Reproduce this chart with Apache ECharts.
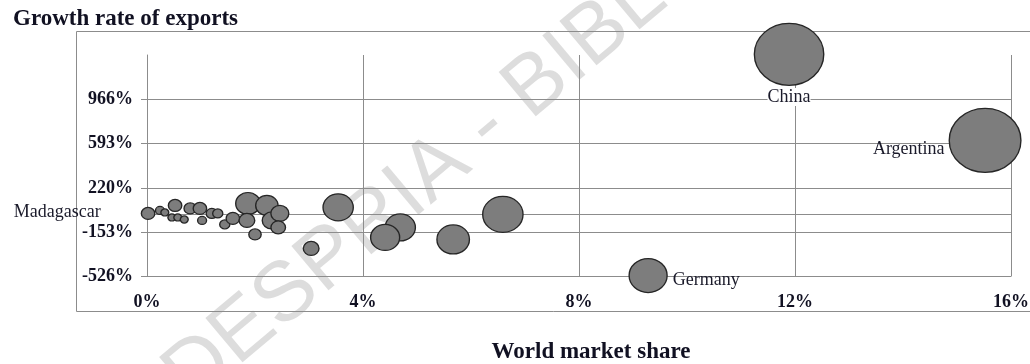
<!DOCTYPE html>
<html>
<head>
<meta charset="utf-8">
<script src="https://cdn.jsdelivr.net/npm/echarts@6/dist/echarts.min.js"></script>
<style>
  html, body { margin: 0; padding: 0; background: #ffffff; }
  #chart { width: 1030px; height: 364px; }
</style>
</head>
<body>
<div id="chart"></div>
<script>
// World market share (%) of each exporter
const shareX = [0.02, 0.24, 0.33, 0.52, 0.46, 0.57, 0.69, 0.80, 0.98, 1.02,
                1.20, 1.31, 1.44, 1.59, 1.87, 1.85, 2.22, 2.31, 2.46, 2.43,
                2.00, 3.04, 3.54, 4.69, 4.41, 5.67, 6.59, 9.28, 11.89, 15.52];
// Growth rate of exports (%)
const growthY = [5, 30, 13, 72, -29, -29, -46, 47, 47, -54,
                 5, 5, -88, -37, 89, -54, 72, -54, 5, -113,
                 -172, -290, 56, -113, -197, -214, -3, -518, 1345, 620];
// Relative export volume (bubble size)
const bubbleSize = [9, 4, 3.1, 9, 3.1, 3.1, 3.1, 7.6, 9, 4,
                    6.3, 5.1, 5.1, 9, 30, 12.3, 25, 18, 16, 10.6,
                    7.6, 12.3, 45.6, 45.6, 42, 52.6, 81, 72, 240, 256];
// Country names shown next to their bubbles ('' = unlabelled)
const names = ['Madagascar', '', '', '', '', '', '', '', '', '',
               '', '', '', '', '', '', '', '', '', '',
               '', '', '', '', '', '', '', 'Germany', 'China', 'Argentina'];
// Axis ticks
const yTicks = [-526, -153, 220, 593, 966];
const xTicks = [0, 4, 8, 12, 16];

const serif = '"Liberation Serif", "Times New Roman", serif';
const gridGray = '#8c8c8c';

const labelPlacement = {
  'Madagascar': { position: 'left', distance: 40, offset: [0, -1] },
  'China': { position: 'bottom', distance: 2, offset: [0, 0], backgroundColor: '#ffffff' },
  'Argentina': { position: 'left', distance: 4, offset: [0, 9] },
  'Germany': { position: 'right', distance: 5, offset: [0, 5] }
};

const points = shareX.map((x, i) => {
  const item = { name: names[i], value: [x, growthY[i], bubbleSize[i]] };
  if (names[i]) {
    item.label = Object.assign({
      show: true,
      formatter: '{b}',
      color: '#1a1a2a',
      fontFamily: serif,
      fontSize: 18
    }, labelPlacement[names[i]]);
  }
  return item;
});

const yStep = yTicks[1] - yTicks[0];
const xStep = xTicks[1] - xTicks[0];

const chart = echarts.init(document.getElementById('chart'), null, { renderer: 'canvas' });
chart.setOption({
  backgroundColor: '#ffffff',
  animation: false,
  title: {
    text: 'Growth rate of exports',
    left: 8,
    top: 3,
    textStyle: { fontFamily: serif, fontWeight: 'bold', fontSize: 23, color: '#111122' }
  },
  graphic: [
    {
      // faint diagonal library stamp behind the plot
      type: 'text',
      z: -10,
      x: 176,
      y: 388,
      rotation: 40 * Math.PI / 180,
      style: {
        text: 'DESPRIA - BIBLIOTECA',
        font: '84px "Liberation Sans", Arial, sans-serif',
        fill: 'rgba(150,150,150,0.32)',
        textAlign: 'left',
        textVerticalAlign: 'middle'
      }
    },
    {
      type: 'polyline',
      z: 0,
      shape: { points: [[1030, 31.5], [76.5, 31.5], [76.5, 311.5], [1030, 311.5]] },
      style: { stroke: gridGray, lineWidth: 1, fill: null }
    }
  ],
  grid: { left: 147, right: 19, top: 55, bottom: 87.5, outerBoundsMode: 'none', containLabel: false },
  xAxis: {
    type: 'value',
    min: xTicks[0],
    max: xTicks[xTicks.length - 1],
    interval: xStep,
    name: 'World market share',
    nameLocation: 'middle',
    nameGap: 64,
    nameTextStyle: {
      fontFamily: serif, fontWeight: 'bold', fontSize: 23, color: '#111122',
      padding: [0, 0, 0, 24]
    },
    axisLine: { show: true, lineStyle: { color: gridGray, width: 1 } },
    axisTick: { show: true, length: 5, lineStyle: { color: gridGray } },
    axisLabel: {
      margin: 17,
      formatter: v => v + '%',
      fontFamily: serif, fontWeight: 'bold', fontSize: 18, color: '#111122'
    },
    splitLine: { show: true, lineStyle: { color: gridGray, width: 1 } }
  },
  yAxis: {
    type: 'value',
    min: yTicks[0],
    max: yTicks[yTicks.length - 1] + yStep,
    interval: yStep,
    axisLine: { show: true, lineStyle: { color: gridGray, width: 1 } },
    axisTick: { show: true, length: 6, lineStyle: { color: gridGray } },
    axisLabel: {
      margin: 14,
      showMaxLabel: false,
      formatter: v => v + '%',
      fontFamily: serif, fontWeight: 'bold', fontSize: 18, color: '#111122'
    },
    splitLine: { show: true, showMaxLine: false, lineStyle: { color: gridGray, width: 1 } }
  },
  series: [{
    type: 'scatter',
    clip: false,
    data: points,
    symbolSize: val => {
      const h = 4 * Math.sqrt(val[2]);
      return [h * 1.12, h];
    },
    itemStyle: { color: '#7d7d7d', borderColor: '#262626', borderWidth: 1.3, opacity: 1 },
    emphasis: { disabled: true }
  }]
});
</script>
</body>
</html>
